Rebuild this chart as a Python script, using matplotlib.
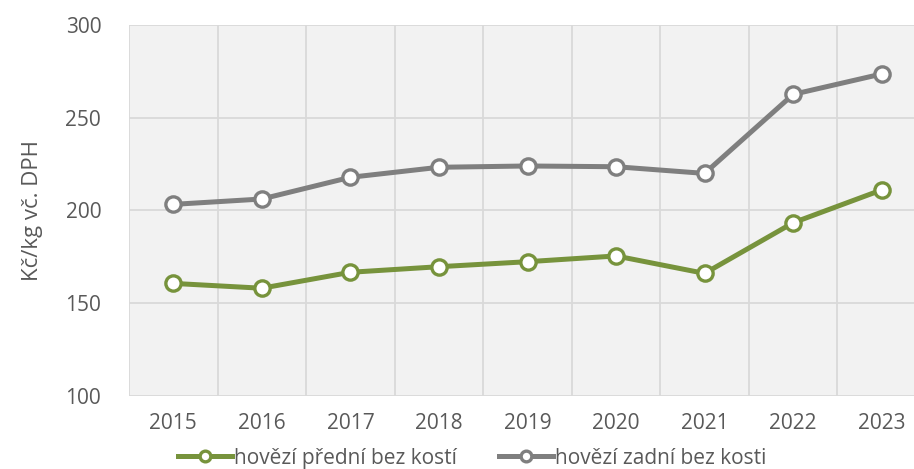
import numpy as np
import matplotlib
matplotlib.use('Agg')
from matplotlib import pyplot as plt

# data
years = ['2015', '2016', '2017', '2018', '2019', '2020', '2021', '2022', '2023']
predni = [160.7, 158.1, 166.7, 169.7, 172.4, 175.5, 166.1, 193.4, 211.1]
zadni = [203.3, 206.2, 217.9, 223.3, 224.0, 223.6, 220.0, 262.6, 273.6]
label_predni = 'hovězí přední bez kostí'
label_zadni = 'hovězí zadní bez kosti'
y_ticks = [100, 150, 200, 250, 300]

plt.rcParams['font.family'] = ['Open Sans', 'DejaVu Sans']

green = '#77933C'
gray = '#7F7F7F'
text_col = '#595959'
grid_col = '#D9D9D9'

fig = plt.figure(figsize=(9.14, 4.69), dpi=100)
ax = fig.add_axes([129 / 914, 73 / 469, 797 / 914, 371 / 469])
ax.set_facecolor('#F2F2F2')

x = np.arange(len(years))
ax.plot(x, predni, color=green, lw=3.6, marker='o', ms=11, mew=2.4,
        mfc='white', mec=green, label=label_predni, zorder=3)
ax.plot(x, zadni, color=gray, lw=3.6, marker='o', ms=11, mew=2.4,
        mfc='white', mec=gray, label=label_zadni, zorder=3)

ax.set_xlim(-0.5, len(years) - 0.5)
ax.set_ylim(100, 300)
ax.set_xticks(x)
ax.set_xticklabels(years)
ax.set_xticks(np.arange(-0.5, len(years), 1), minor=True)
ax.set_yticks(y_ticks)

ax.grid(True, axis='x', which='minor', color=grid_col, lw=1.3)
ax.grid(True, axis='y', which='major', color=grid_col, lw=1.3)
ax.set_axisbelow(True)
for s in ax.spines.values():
    s.set_visible(False)

ax.tick_params(axis='both', which='both', length=0, labelsize=15, labelcolor=text_col)
ax.tick_params(axis='x', pad=12)
ax.tick_params(axis='y', pad=20)
ax.set_ylabel('Kč/kg vč. DPH', fontsize=16, color=text_col, labelpad=16)

fig.legend(loc='center', bbox_to_anchor=(472 / 914, 11 / 469), ncol=2, frameon=False,
           fontsize=15, labelcolor=text_col, handlelength=2.6, handletextpad=0.1,
           columnspacing=2.0, markerscale=0.7)

fig.savefig('out.png', dpi=100)
